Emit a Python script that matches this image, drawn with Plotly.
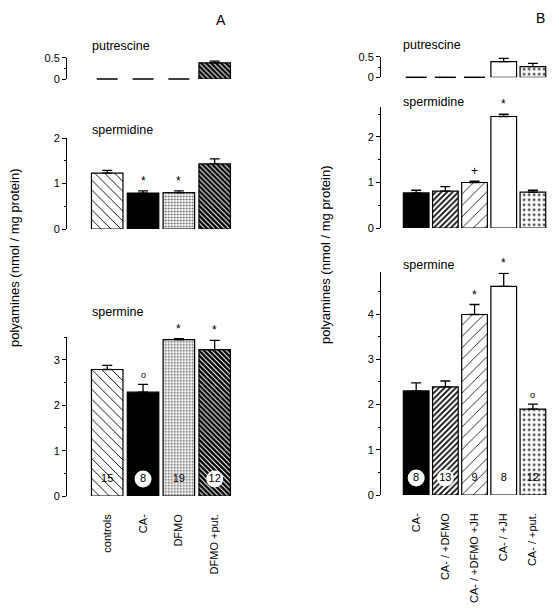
import plotly.graph_objects as go

# ---------------- data ----------------
cats_a = ["controls", "CA-", "DFMO", "DFMO +put."]
put_a = [0, 0, 0, 0.38]
put_a_err = [0, 0, 0, 0.04]
spd_a = [1.23, 0.79, 0.80, 1.43]
spd_a_err = [0.06, 0.05, 0.04, 0.11]
spd_a_sig = ["", "*", "*", ""]
spm_a = [2.79, 2.29, 3.45, 3.23]
spm_a_err = [0.09, 0.17, 0.02, 0.20]
spm_a_sig = ["", "o", "*", "*"]
n_a = [15, 8, 19, 12]

cats_b = ["CA-", "CA- / +DFMO", "CA- / +DFMO +JH", "CA- / +JH", "CA- / +put."]
put_b = [0, 0, 0, 0.38, 0.26]
put_b_err = [0, 0, 0, 0.08, 0.08]
spd_b = [0.77, 0.81, 1.00, 2.45, 0.79]
spd_b_err = [0.06, 0.10, 0.03, 0.05, 0.04]
spd_b_sig = ["", "", "+", "*", ""]
spm_b = [2.30, 2.39, 3.99, 4.61, 1.90]
spm_b_err = [0.18, 0.13, 0.22, 0.29, 0.11]
spm_b_sig = ["", "", "*", "*", "o"]
n_b = [8, 13, 9, 8, 12]

# ---------------- styles ----------------
W, H = 559, 612
OFF = 8  # page body margin of the html page
FW, FH = W - OFF, H - OFF
FONT = "Liberation Sans, Arial, Helvetica, sans-serif"

style_a = dict(
    color=["white", "black", "white", "black"],
    shape=["\\", "", ".", "\\"],
    fg=["black", "black", "#555555", "white"],
    size=[7, 8, 3, 3.5],
    solidity=[0.13, 0.3, 0.3, 0.3],
    circle=[False, True, False, True],
)
style_b = dict(
    color=["black", "white", "white", "white", "white"],
    shape=["", "/", "/", "", "."],
    fg=["black", "black", "black", "black", "black"],
    size=[8, 4, 8, 8, 5],
    solidity=[0.3, 0.42, 0.1, 0.3, 0.16],
    circle=[True, True, False, False, False],
)


def px_x(p):
    return (p - OFF) / FW


def px_y(p):
    return 1 - (p - OFF) / FH


panels = [
    (cats_a, put_a, put_a_err, None, style_a, 79, 57.7, [0, 0.5], [0, 0.5], 0.25, (89.3, 232.6), 66, False, None),
    (cats_a, spd_a, spd_a_err, spd_a_sig, style_a, 229, 138, [0, 2], [0, 1, 2], 0.5, (89.3, 232.6), 66, False, None),
    (cats_a, spm_a, spm_a_err, spm_a_sig, style_a, 496, 337.3, [0, 3.5], [0, 1, 2, 3], 0.5, (89.3, 232.6), 66, True, n_a),
    (cats_b, put_b, put_b_err, None, style_b, 77.3, 56.7, [0, 0.5], [0, 0.5], 0.25, (401.6, 547.5), 380, False, None),
    (cats_b, spd_b, spd_b_err, spd_b_sig, style_b, 228, 107.4, [0, 2.65], [0, 1, 2], 0.5, (401.6, 547.5), 380, False, None),
    (cats_b, spm_b, spm_b_err, spm_b_sig, style_b, 495, 272.4, [0, 4.92], [0, 1, 2, 3, 4], 0.5, (401.6, 547.5), 380, True, n_b),
]

N_LABEL_Y_PX = 17  # label centre height above baseline (px)

fig = go.Figure()
layout = dict(
    template="none",
    width=FW, height=FH, autosize=False,
    margin=dict(l=0, r=0, t=0, b=0, pad=0),
    paper_bgcolor="white", plot_bgcolor="white",
    showlegend=False, barmode="overlay",
    font=dict(family=FONT, color="black", size=11),
)
annotations = []

for i, (cats, vals, errs, sig, st, zpx, tpx, rng, tv, minor, xdom, ypos, bottom, nlab) in enumerate(panels):
    k = i + 1
    xa = "x" if k == 1 else f"x{k}"
    ya = "y" if k == 1 else f"y{k}"
    xkey = "xaxis" if k == 1 else f"xaxis{k}"
    ykey = "yaxis" if k == 1 else f"yaxis{k}"
    unit_px = (zpx - tpx) / (rng[1] - rng[0])

    for j, (c, v, e) in enumerate(zip(cats, vals, errs)):
        if v == 0:
            continue
        fig.add_trace(go.Bar(
            x=[c], y=[v], xaxis=xa, yaxis=ya, width=0.88,
            marker=dict(
                color=st["color"][j],
                line=dict(color="black", width=1.2),
                pattern=dict(shape=st["shape"][j], fgcolor=st["fg"][j], bgcolor=st["color"][j],
                             size=st["size"][j], solidity=st["solidity"][j], fillmode="replace"),
            ),
            error_y=dict(type="data", symmetric=False, array=[e], arrayminus=[0],
                         color="black", thickness=1.3, width=5),
        ))
    # zero values drawn as short dashes
    zx = [c for c, v in zip(cats, vals) if v == 0]
    zy = [v for v in vals if v == 0]
    if zx:
        fig.add_trace(go.Scatter(
            x=zx, y=zy, xaxis=xa, yaxis=ya, mode="markers", cliponaxis=False,
            marker=dict(symbol="line-ew", size=15, line=dict(color="black", width=1.5)),
        ))

    if nlab is not None:
        fig.add_trace(go.Scatter(
            x=cats, y=[N_LABEL_Y_PX / unit_px] * len(cats), xaxis=xa, yaxis=ya,
            mode="markers+text", text=[str(n) for n in nlab], textposition="middle center",
            textfont=dict(size=11, color="black", family=FONT),
            marker=dict(color="#ffffff", opacity=1, size=[17 if c else 0 for c in st["circle"]],
                        line=dict(width=0)),
            opacity=1, cliponaxis=False,
        ))

    if sig is not None:
        for c, v, e, s in zip(cats, vals, errs, sig):
            if s:
                annotations.append(dict(
                    x=c, y=v, xref=xa, yref=ya, text=s, showarrow=False,
                    yanchor="bottom", yshift=e * unit_px + (1 if s != "o" else 2),
                    font=dict(size=12 if s != "o" else 9, family=FONT, color="black"),
                ))

    layout[xkey] = dict(
        domain=[px_x(xdom[0]), px_x(xdom[1])], anchor=ya, type="category",
        categoryorder="array", categoryarray=cats,
        range=[-0.5, len(cats) - 0.5], showline=False, showgrid=False, zeroline=False,
        automargin=False,
        ticks="", showticklabels=bottom, tickangle=-90 if bottom else 0,
        tickfont=dict(size=11, family=FONT, color="black"),
        ticklabelstandoff=15,
    )
    layout[ykey] = dict(
        domain=[px_y(zpx), px_y(tpx)], anchor="free", position=px_x(ypos),
        range=rng, tickvals=tv, ticktext=[f"{t:g}" for t in tv],
        automargin=False,
        showline=True, linecolor="black", linewidth=1,
        ticks="outside", ticklen=4, tickwidth=1, tickcolor="black",
        minor=dict(dtick=minor, ticks="outside", ticklen=2, tickwidth=1, tickcolor="black", showgrid=False),
        showgrid=False, zeroline=False,
        tickfont=dict(size=11, family=FONT, color="black"),
    )


def label(text, xp, yp, size=12.5, anchor="left"):
    annotations.append(dict(x=px_x(xp), y=px_y(yp), xref="paper", yref="paper", text=text,
                            showarrow=False, xanchor=anchor, yanchor="middle",
                            font=dict(size=size, family=FONT, color="black")))


label("putrescine", 90, 46)
label("spermidine", 90, 130)
label("spermine", 90, 312)
label("putrescine", 401, 45)
label("spermidine", 401, 102)
label("spermine", 401, 265)
label("A", 221, 20, size=14, anchor="center")
label("B", 540, 18, size=14, anchor="center")

for xp, yp in [(14, 258), (326, 255)]:
    annotations.append(dict(x=px_x(xp), y=px_y(yp), xref="paper", yref="paper",
                            text="polyamines (nmol / mg protein)", textangle=-90,
                            showarrow=False, xanchor="center", yanchor="middle",
                            font=dict(size=13, family=FONT, color="black")))

layout["annotations"] = annotations
fig.update_layout(**layout)
fig.write_html("out.html")
